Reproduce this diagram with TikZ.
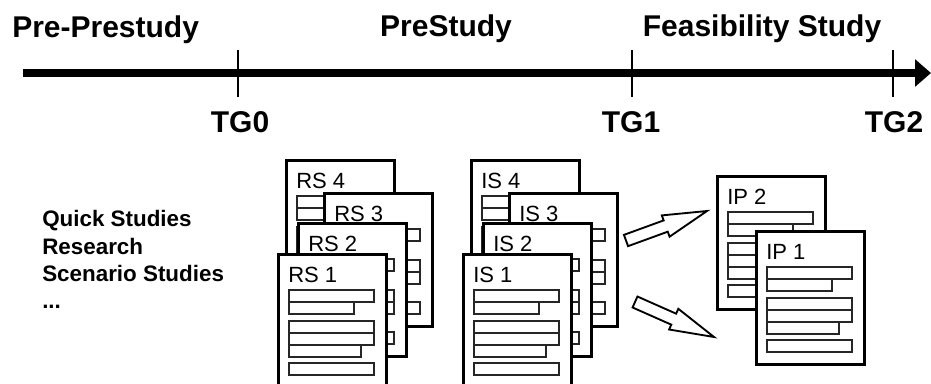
\documentclass[tikz,border=0pt]{standalone}
\usepackage{fontspec}
\setmainfont{Liberation Sans}
\usetikzlibrary{calc,arrows.meta}
\newcommand\drawdoc[4]{%
  \begin{scope}[shift={(#2,#3)}]
    \node[docbox] (#1) at (0,0) {};
    \draw[barbox] (12,37) rectangle (97,49);
    \draw[barbox] (12,49) rectangle (77,61);
    \draw[barbox] (12,68) rectangle (97,80);
    \draw[barbox] (12,80) rectangle (97,92);
    \draw[barbox] (12,92) rectangle (84,104);
    \draw[barbox] (12,110) rectangle (97,122);
    \node[doclabel, anchor=base west] (#1l) at (11,29) {#4};
  \end{scope}}
\newcommand\drawblockarrow[2]{%
  \coordinate (#1b) at ($(#1)!0.49!(#2)$);
  \draw[blockarrow] ($(#1)!4.5pt!90:(#2)$) -- ($(#1b)!4.5pt!90:(#2)$)
    -- ($(#1b)!8.5pt!90:(#2)$) -- (#2) -- ($(#1b)!8.5pt!-90:(#2)$)
    -- ($(#1b)!4.5pt!-90:(#2)$) -- ($(#1)!4.5pt!-90:(#2)$) -- cycle;}
\begin{document}
\begin{tikzpicture}[x=0.75pt,y=-0.75pt,
  bigtxt/.style={font=\bfseries\fontsize{22.5}{27}\selectfont, inner sep=0pt},
  smalltxt/.style={font=\bfseries\fontsize{16.8}{20}\selectfont, inner sep=0pt},
  doclabel/.style={font=\fontsize{16.5}{20}\selectfont, inner sep=0pt},
  docbox/.style={draw=black, fill=white, line width=2.2pt, minimum width=81pt,
    minimum height=99.75pt, inner sep=0pt, anchor=north west},
  barbox/.style={draw=black!85, line width=0.9pt},
  tickline/.style={line width=2.2pt},
  blockarrow/.style={draw=black, fill=white, line width=1.4pt, line join=miter}
]
\useasboundingbox (0,0) rectangle (931,383);

% timeline
\coordinate (tlstart) at (23,73);
\coordinate (tlend) at (931,73);
\draw[line width=6pt, -{Triangle[length=12pt,width=20pt]}] (tlstart) -- (tlend);

\coordinate (tg0top) at (238,50); \coordinate (tg0bot) at (238,97);
\coordinate (tg1top) at (632,50); \coordinate (tg1bot) at (632,97);
\coordinate (tg2top) at (893,50); \coordinate (tg2bot) at (893,97);
\draw[tickline] (tg0top) -- (tg0bot);
\draw[tickline] (tg1top) -- (tg1bot);
\draw[tickline] (tg2top) -- (tg2bot);

\node[bigtxt, anchor=base west] (pp) at (12,37) {Pre-Prestudy};
\node[bigtxt, anchor=base] (ps) at (446,36) {PreStudy};
\node[bigtxt, anchor=base] (fs) at (762,36) {Feasibility Study};
\node[bigtxt, anchor=base] (tg0) at (240,132) {TG0};
\node[bigtxt, anchor=base] (tg1) at (631,132) {TG1};
\node[bigtxt, anchor=base] (tg2) at (894,132) {TG2};

% left text
\node[smalltxt, anchor=base west] (q1) at (42,226) {Quick Studies};
\node[smalltxt, anchor=base west] (q2) at (42,254) {Research};
\node[smalltxt, anchor=base west] (q3) at (42,281) {Scenario Studies};
\node[smalltxt, anchor=base west] (q4) at (42,308) {...};

% documents
\drawdoc{rs4}{285}{159}{RS 4}
\drawdoc{rs3}{323}{192}{RS 3}
\drawdoc{rs2}{297}{222}{RS 2}
\drawdoc{rs1}{277}{253}{RS 1}
\drawdoc{is4}{470}{159}{IS 4}
\drawdoc{is3}{508}{192}{IS 3}
\drawdoc{is2}{482}{222}{IS 2}
\drawdoc{is1}{462}{253}{IS 1}
\drawdoc{ip2}{716}{175}{IP 2}
\drawdoc{ip1}{755}{230}{IP 1}

% block arrows
\coordinate (a1t) at (626,240.5);
\coordinate (a1h) at (707,211);
\coordinate (a2t) at (635,302);
\coordinate (a2h) at (714,337);
\drawblockarrow{a1t}{a1h}
\drawblockarrow{a2t}{a2h}
\end{tikzpicture}
\end{document}
